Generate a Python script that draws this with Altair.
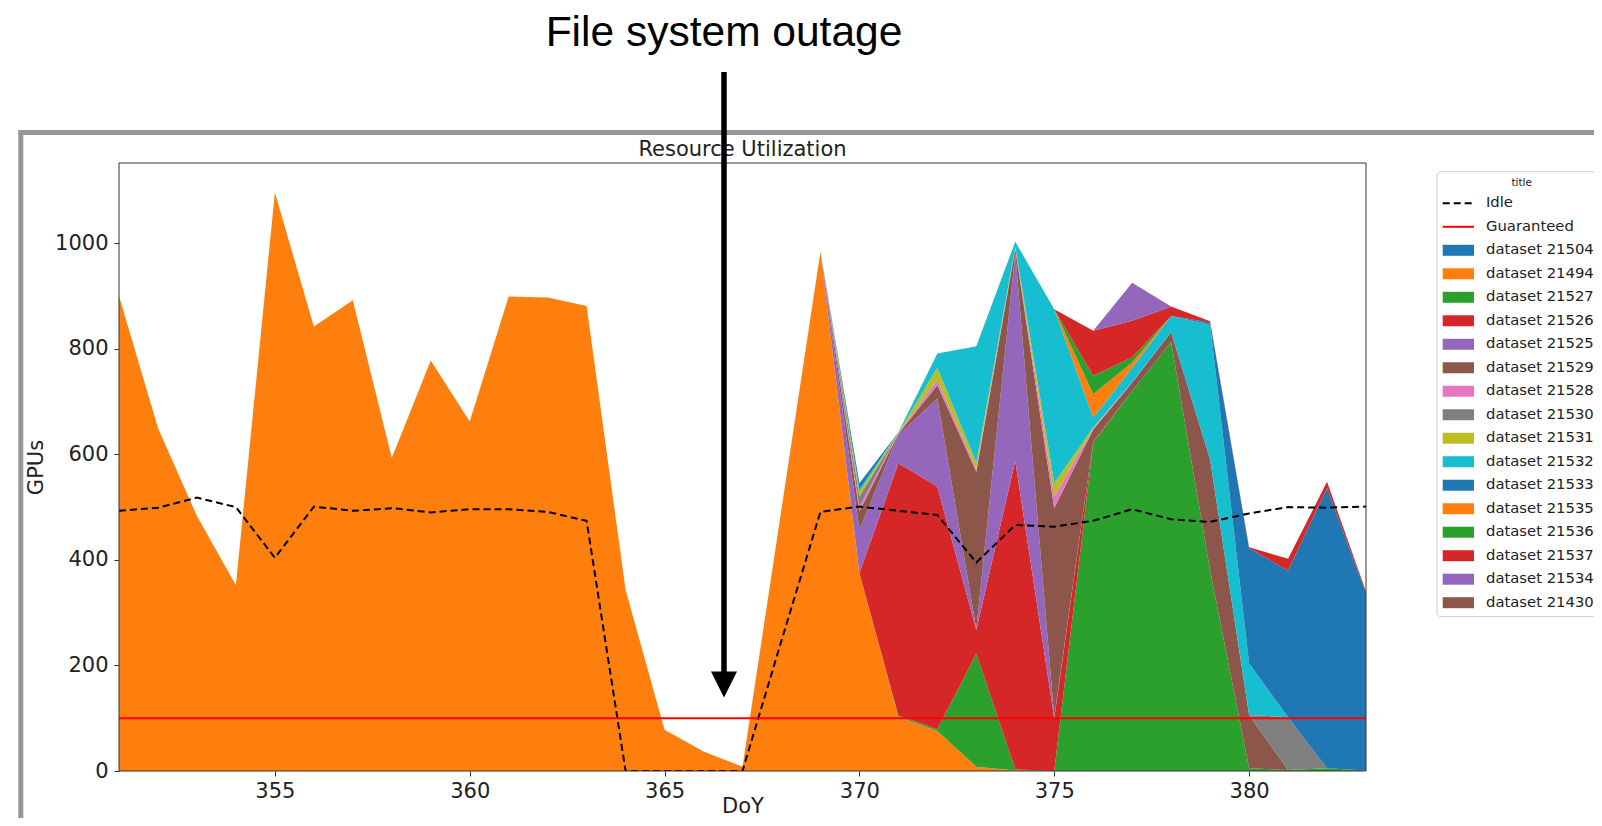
import altair as alt
import pandas as pd

DAYS = [351, 352, 353, 354, 355, 356, 357, 358, 359, 360, 361, 362, 363, 364, 365, 366, 367,
        368, 369, 370, 371, 372, 373, 374, 375, 376, 377, 378, 379, 380, 381, 382, 383]

SERIES = ["dataset 21504", "dataset 21494", "dataset 21527", "dataset 21526", "dataset 21525",
          "dataset 21529", "dataset 21528", "dataset 21530", "dataset 21531", "dataset 21532",
          "dataset 21533", "dataset 21535", "dataset 21536", "dataset 21537", "dataset 21534",
          "dataset 21430"]

D21504 = [0, 0, 0, 0, 0, 0, 0, 0, 0, 0, 0, 0, 0, 0, 0, 0, 0, 0, 0,
          0, 0, 0, 0, 0, 0, 0, 0, 0, 0, 0, 0, 0, 0]
D21494 = [900, 650, 483, 352, 1096, 842, 892, 593, 778, 662, 899, 897, 881, 343, 78, 37, 8, 496, 984,
          375, 103, 76, 8, 1, 0, 0, 0, 0, 0, 0, 0, 0, 0]
D21527 = [0, 0, 0, 0, 0, 0, 0, 0, 0, 0, 0, 0, 0, 0, 0, 0, 0, 0, 0,
          0, 2, 3, 214, 2, 0, 622, 720, 813, 380, 5, 2, 5, 1]
D21526 = [0, 0, 0, 0, 0, 0, 0, 0, 0, 0, 0, 0, 0, 0, 0, 0, 0, 0, 0,
          0, 478, 460, 45, 585, 100, 3, 0, 0, 0, 0, 0, 0, 0]
D21525 = [0, 0, 0, 0, 0, 0, 0, 0, 0, 0, 0, 0, 0, 0, 0, 0, 0, 0, 0,
          82, 54, 167, 2, 393, 3, 0, 0, 0, 0, 0, 0, 0, 0]
D21529 = [0, 0, 0, 0, 0, 0, 0, 0, 0, 0, 0, 0, 0, 0, 0, 0, 0, 0, 0,
          35, 2, 25, 298, 8, 395, 22, 16, 19, 210, 101, 0, 0, 0]
D21528 = [0, 0, 0, 0, 0, 0, 0, 0, 0, 0, 0, 0, 0, 0, 0, 0, 0, 0, 0,
          9, 1, 9, 5, 2, 22, 2, 1, 0, 0, 0, 0, 0, 0]
D21530 = [0, 0, 0, 0, 0, 0, 0, 0, 0, 0, 0, 0, 0, 0, 0, 0, 0, 0, 0,
          19, 0, 2, 0, 0, 0, 0, 0, 0, 0, 0, 100, 0, 0]
D21531 = [0, 0, 0, 0, 0, 0, 0, 0, 0, 0, 0, 0, 0, 0, 0, 0, 0, 0, 0,
          9, 1, 22, 12, 2, 25, 2, 0, 0, 0, 0, 0, 0, 0]
D21532 = [0, 0, 0, 0, 0, 0, 0, 0, 0, 0, 0, 0, 0, 0, 0, 0, 0, 0, 0,
          5, 1, 27, 221, 10, 330, 19, 27, 30, 256, 98, 0, 0, 0]
D21533 = [0, 0, 0, 0, 0, 0, 0, 0, 0, 0, 0, 0, 0, 0, 0, 0, 0, 0, 0,
          11, 0, 0, 0, 0, 0, 0, 0, 0, 4, 218, 278, 531, 336]
D21535 = [0, 0, 0, 0, 0, 0, 0, 0, 0, 0, 0, 0, 0, 0, 0, 0, 0, 0, 0,
          0, 0, 0, 0, 0, 0, 44, 10, 0, 0, 0, 0, 0, 0]
D21536 = [0, 0, 0, 0, 0, 0, 0, 0, 0, 0, 0, 0, 0, 0, 0, 0, 0, 0, 0,
          0, 0, 0, 0, 0, 0, 35, 10, 0, 0, 0, 0, 0, 0]
D21537 = [0, 0, 0, 0, 0, 0, 0, 0, 0, 0, 0, 0, 0, 0, 0, 0, 0, 0, 0,
          0, 0, 0, 0, 0, 0, 85, 69, 18, 2, 2, 22, 12, 3]
D21534 = [0, 0, 0, 0, 0, 0, 0, 0, 0, 0, 0, 0, 0, 0, 0, 0, 0, 0, 0,
          0, 0, 0, 0, 0, 0, 0, 72, 0, 0, 0, 0, 0, 0]
D21430 = [0, 0, 0, 0, 0, 0, 0, 0, 0, 0, 0, 0, 0, 0, 0, 0, 0, 0, 0,
          0, 0, 0, 0, 0, 0, 0, 0, 0, 0, 0, 0, 0, 0]

SERIES_VALUES = [D21504, D21494, D21527, D21526, D21525, D21529, D21528, D21530,
                 D21531, D21532, D21533, D21535, D21536, D21537, D21534, D21430]

IDLE = [493, 499, 518, 500, 404, 501, 493, 498, 490, 496, 496, 491, 474, 0, 0, 0, 0, 247, 491,
        501, 493, 485, 395, 466, 463, 474, 496, 477, 472, 488, 500, 499, 501]
GUARANTEED = [100, 100, 100, 100, 100, 100, 100, 100, 100, 100, 100, 100, 100, 100, 100, 100, 100,
              100, 100, 100, 100, 100, 100, 100, 100, 100, 100, 100, 100, 100, 100, 100, 100]

LINE_NAMES = ["Idle", "Guaranteed"]
COLORS = ["#000000", "#ff0000",
          "#1f77b4", "#ff7f0e", "#2ca02c", "#d62728", "#9467bd", "#8c564b", "#e377c2", "#7f7f7f",
          "#bcbd22", "#17becf", "#1f77b4", "#ff7f0e", "#2ca02c", "#d62728", "#9467bd", "#8c564b"]

X_TICKS = [355, 360, 365, 370, 375, 380]
Y_TICKS = [0, 200, 400, 600, 800, 1000]

# ---------------- data tables ----------------
rows = []
for k, (name, vals) in enumerate(zip(SERIES, SERIES_VALUES)):
    for d, v in zip(DAYS, vals):
        rows.append({"day": d, "value": v, "series": name, "idx": k})
stack_df = pd.DataFrame(rows)
idle_df = pd.DataFrame({"day": DAYS, "value": IDLE, "series": "Idle"})
guar_df = pd.DataFrame({"day": DAYS, "value": GUARANTEED, "series": "Guaranteed"})
legend_df = pd.DataFrame({"series": LINE_NAMES + SERIES,
                          "row": list(range(len(LINE_NAMES) + len(SERIES)))})
one = pd.DataFrame({"k": [0]})

W, H = 1247, 608
FONT = "DejaVu Sans"
TXT = "#222222"

cscale = alt.Scale(domain=LINE_NAMES + SERIES, range=COLORS)
xs = alt.Scale(domain=[351, 383], nice=False, zero=False)
ys = alt.Scale(domain=[0, 1152], nice=False)
x_enc = alt.X("day:Q", scale=xs,
              axis=alt.Axis(values=X_TICKS, title="DoY", format="d", labelPadding=4,
                            titleBaseline="alphabetic", titleY=41))
y_axis = alt.Axis(values=Y_TICKS, title="GPUs", format="d", labelPadding=6, titlePadding=8)
col = alt.Color("series:N", scale=cscale, legend=None)

area = alt.Chart(stack_df).mark_area(interpolate="linear", clip=True).encode(
    x=x_enc,
    y=alt.Y("value:Q", stack="zero", scale=ys, axis=y_axis),
    color=col,
    order=alt.Order("idx:Q", sort="ascending"),
)
idle = alt.Chart(idle_df).mark_line(strokeDash=[7, 4], strokeWidth=2, clip=True).encode(
    x=x_enc, y=alt.Y("value:Q", scale=ys, axis=y_axis), color=col)
guar = alt.Chart(guar_df).mark_line(strokeWidth=2, clip=True).encode(
    x=x_enc, y=alt.Y("value:Q", scale=ys, axis=y_axis), color=col)
main = alt.layer(area, idle, guar)

# ---------------- legend (drawn through its own row scale) ----------------
leg_y = alt.Y("row:Q", scale=alt.Scale(domain=[0, 17], range=[40.3, 439.7]), axis=None)
leg_box = alt.Chart(one).mark_rect(fill="white", stroke="#cccccc", strokeWidth=1, cornerRadius=4).encode(
    x=alt.value(1318), x2=alt.value(1600), y=alt.value(8.7), y2=alt.value(453.7))
leg_sw = alt.Chart(legend_df).transform_filter(
    alt.FieldOneOfPredicate(field="series", oneOf=SERIES)
).mark_rule(strokeWidth=11, strokeCap="butt").encode(
    x=alt.value(1323.7), x2=alt.value(1355), y=leg_y, color=col)
leg_idle = alt.Chart(legend_df).transform_filter(alt.datum.series == "Idle").mark_rule(
    strokeWidth=2, strokeDash=[7, 4]).encode(x=alt.value(1323.7), x2=alt.value(1355), y=leg_y, color=col)
leg_guar = alt.Chart(legend_df).transform_filter(alt.datum.series == "Guaranteed").mark_rule(
    strokeWidth=2).encode(x=alt.value(1323.7), x2=alt.value(1355), y=leg_y, color=col)
leg_text = alt.Chart(legend_df).mark_text(align="left", baseline="middle", font=FONT,
                                          fontSize=14.8, color=TXT).encode(
    x=alt.value(1367), y=leg_y, text="series:N")
leg_title = alt.Chart(one).mark_text(text="title", align="center", baseline="middle", font=FONT,
                                     fontSize=10.5, color=TXT).encode(x=alt.value(1402.7), y=alt.value(19.7))
legend = alt.layer(leg_box, leg_sw, leg_idle, leg_guar, leg_text, leg_title)

# ---------------- decorations ----------------
frame_left = alt.Chart(one).mark_rule(color="#969696", strokeWidth=5).encode(
    x=alt.value(-98.2), y=alt.value(-30.5), y2=alt.value(700))
frame_top = alt.Chart(one).mark_rule(color="#969696", strokeWidth=5).encode(
    x=alt.value(-100.7), x2=alt.value(1600), y=alt.value(-30.5))
spines = alt.Chart(one).mark_rect(fillOpacity=0, stroke="#333333", strokeWidth=1).encode(
    x=alt.value(0), x2=alt.value(W), y=alt.value(0), y2=alt.value(H))
title = alt.Chart(one).mark_text(text="Resource Utilization", align="center", baseline="alphabetic",
                                 font=FONT, fontSize=21, color=TXT).encode(x=alt.value(W / 2), y=alt.value(-7))
arrow_line = alt.Chart(one).mark_rule(color="black", strokeWidth=5.5).encode(
    x=alt.value(605), y=alt.value(-91), y2=alt.value(512))
arrow_head = alt.Chart(one).mark_point(shape="M-1,-1L1,-1L0,1Z", size=676, filled=True,
                                       color="black", opacity=1).encode(x=alt.value(605), y=alt.value(521.5))
outage = alt.Chart(one).mark_text(text="File system outage", align="center", baseline="alphabetic",
                                  font="Liberation Sans", fontSize=42.5, color="black").encode(
    x=alt.value(605), y=alt.value(-117))

chart = alt.layer(
    frame_left, frame_top, main, spines, legend, title, arrow_line, arrow_head, outage
).resolve_scale(y="independent").properties(
    width=W, height=H,
    autosize=alt.AutoSizeParams(type="none"),
    padding={"left": 111, "top": 155, "right": 228, "bottom": 47},
).configure_view(strokeWidth=0).configure_axis(
    labelFont=FONT, labelFontSize=21, labelColor=TXT,
    titleFont=FONT, titleFontSize=21, titleFontWeight="normal", titleColor=TXT,
    tickColor="#333333", tickSize=5, grid=False, domain=False,
)

chart.save("out.html", embed_options={"renderer": "svg", "actions": False})
